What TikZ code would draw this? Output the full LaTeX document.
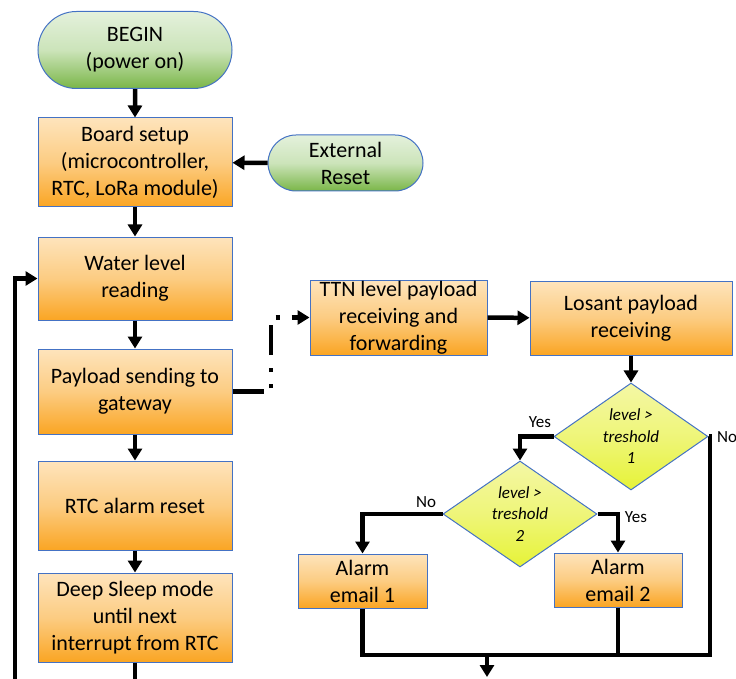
\documentclass[tikz,border=0pt]{standalone}
\usepackage{fontspec}
\setmainfont{Carlito}
\usetikzlibrary{shapes.misc,shapes.geometric,arrows.meta}
\definecolor{FCBorder}{RGB}{68,114,196}
\definecolor{FCOrangeTop}{RGB}{254,228,188}
\definecolor{FCOrangeMid}{RGB}{252,204,130}
\definecolor{FCOrangeBot}{RGB}{250,165,35}
\definecolor{FCGreenTop}{RGB}{228,241,220}
\definecolor{FCGreenMid}{RGB}{204,228,186}
\definecolor{FCGreenBot}{RGB}{122,182,72}
\definecolor{FCYellowTop}{RGB}{244,247,165}
\definecolor{FCYellowBot}{RGB}{230,243,55}

\tikzset{
  procbox/.style={draw=FCBorder, line width=1pt, top color=FCOrangeTop,
    bottom color=FCOrangeBot, middle color=FCOrangeMid, align=center,
    inner sep=0pt, font=\fontsize{22}{27}\selectfont},
  termbox/.style={rounded rectangle, draw=FCBorder, line width=1pt,
    top color=FCGreenTop, bottom color=FCGreenBot, middle color=FCGreenMid,
    align=center, inner sep=0pt, font=\fontsize{22}{27}\selectfont},
  decbox/.style={diamond, draw=FCBorder, line width=1pt, top color=FCYellowTop,
    bottom color=FCYellowBot, middle color=FCYellowTop!60!FCYellowBot, inner sep=0pt},
  dectext/.style={align=center, inner sep=0pt, font=\fontsize{17}{21.5}\selectfont\itshape},
  flowline/.style={line width=4.5pt, line join=miter},
  flow/.style={flowline, -{Triangle[length=12pt,width=14pt]}},
  answer/.style={font=\fontsize{17}{20}\selectfont, inner sep=1pt}
}

\begin{document}
\begin{tikzpicture}[x=1pt,y=-1pt]
      \useasboundingbox (0,0) rectangle (736,679);
      \clip (0,0) rectangle (736,679);
      % main sequence on the device
      \node[termbox, minimum width=194pt, minimum height=77pt] (begin) at (135,50) {BEGIN\\(power on)};
      \node[procbox, minimum width=194pt, minimum height=89pt] (board) at (135,162.5) {Board setup\\(microcontroller,\\RTC, LoRa module)};
      \node[termbox, minimum width=155pt, minimum height=56pt] (reset) at (345.5,163) {External\\Reset};
      \node[procbox, minimum width=194pt, minimum height=83pt] (water) at (135,278.5) {Water level\\reading};
      \node[procbox, minimum width=194pt, minimum height=85pt] (payload) at (135,391.5) {Payload sending to\\gateway};
      \node[procbox, minimum width=194pt, minimum height=89pt] (rtcreset) at (135,505.5) {RTC alarm reset};
      \node[procbox, minimum width=194pt, minimum height=89pt] (sleep) at (135,617.5) {Deep Sleep mode\\until next\\interrupt from RTC};
      % network and cloud side
      \node[procbox, minimum width=177pt, minimum height=75pt] (ttn) at (398.5,317.5) {TTN level payload\\receiving and\\forwarding};
      \node[procbox, minimum width=202pt, minimum height=74pt] (losant) at (631,318) {Losant payload\\receiving};
      \node[decbox, minimum width=154pt, minimum height=107pt,
        label={[dectext]center:{level >\\treshold\\1}}] (dec1) at (631,436.5) {};
      \node[decbox, minimum width=154pt, minimum height=106pt,
        label={[dectext]center:{level >\\treshold\\2}}] (dec2) at (520,514) {};
      \node[procbox, minimum width=129pt, minimum height=54pt] (mail1) at (362.5,581) {Alarm\\email 1};
      \node[procbox, minimum width=128pt, minimum height=54pt] (mail2) at (618,580) {Alarm\\email 2};
      \node[answer] (yes1) at (540,422) {Yes};
      \node[answer, anchor=west] (no1) at (716,437) {No};
      \node[answer] (no2) at (426,502) {No};
      \node[answer] (yes2) at (636,517) {Yes};
      \coordinate (link) at (271,0);
      \coordinate (merge) at (487,655);
      \coordinate (nocorner) at (710,655);
      \coordinate (out) at (487,677);
      \coordinate (loopbot) at (135,692);
      \coordinate (loopleft) at (15,692);
      % connectors
      \draw[flow] (begin) -- (board);
      \draw[flow] (reset) -- (board);
      \draw[flow] (board) -- (water);
      \draw[flow] (water) -- (payload);
      \draw[flow] (payload) -- (rtcreset);
      \draw[flow] (rtcreset) -- (sleep);
      \draw[flow] (sleep.south) -- (loopbot) -- (loopleft) |- (water.west);
      \draw[flow, dash pattern=on 31pt off 11pt on 4pt off 12pt on 4pt off 13pt on 30pt off 12pt on 4pt off 12pt on 40pt]
        (payload.east) -- (payload.east -| link) |- (ttn.west);
      \draw[flow] (ttn) -- (losant);
      \draw[flow] (losant) -- (dec1);
      \draw[flow] (dec1.west) -| (dec2.north);
      \draw[flow] (dec2.west) -| (mail1.north);
      \draw[flow] (dec2.east) -| (mail2.north);
      \draw[flowline] (mail1.south) |- (nocorner) |- (dec1.east);
      \draw[flowline] (mail2.south) -- (mail2.south |- merge);
      \draw[flow] (merge) -- (out);
    \end{tikzpicture}
\end{document}
